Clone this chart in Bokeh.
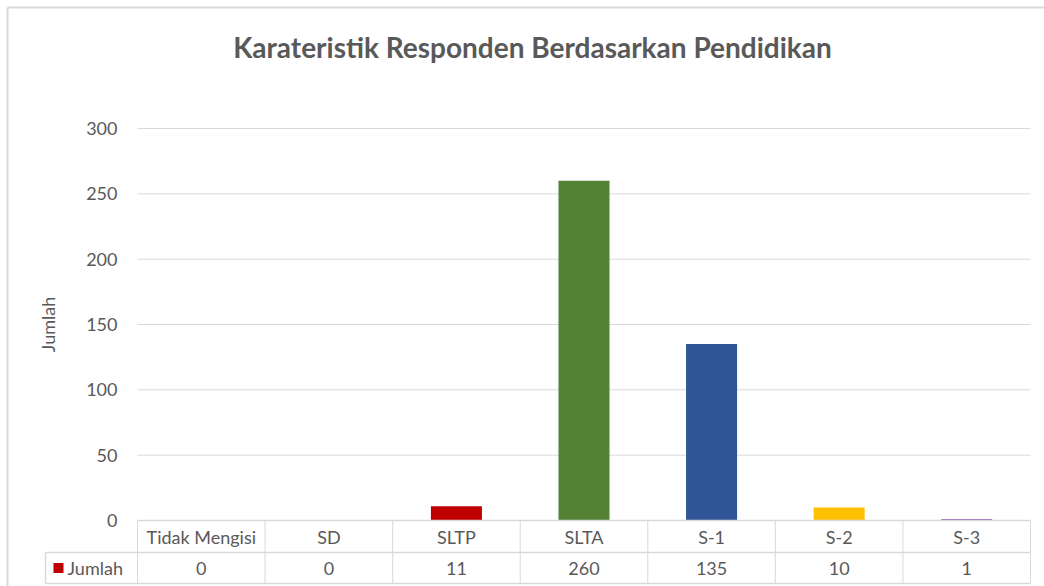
import numpy as np
from bokeh.plotting import figure
from bokeh.models import Range1d, FixedTicker, LinearAxis, ColumnDataSource
from bokeh.core.properties import value
from bokeh.embed import file_html
from bokeh.resources import INLINE

# ---------------- data ----------------
title_text = "Karateristik Responden Berdasarkan Pendidikan"
y_label = "Jumlah"
series_name = "Jumlah"
categories = ["Tidak Mengisi", "SD", "SLTP", "SLTA", "S-1", "S-2", "S-3"]
values = [0, 0, 11, 260, 135, 10, 1]
bar_colors = ["#4472C4", "#ED7D31", "#C00000", "#548235", "#2F5597", "#FFC000", "#7030A0"]
legend_color = "#C00000"
y_ticks = [0, 50, 100, 150, 200, 250, 300]

# ---------------- layout (pixels) ----------------
FONT = "Lato"
TXT = "#595959"
GRID = "#D9D9D9"
W, H = 1044, 586
PLOT_L, PLOT_R = 137, 1030          # plot area, px
PLOT_T, PLOT_B = 128, 520           # y of 300 and of 0, px
n = len(categories)
cx = (PLOT_R - PLOT_L) / n          # px per category
cy = (PLOT_B - PLOT_T) / 300.0      # px per unit


def dx(px):  # page x -> data x
    return (px - PLOT_L) / cx


def dy(py):  # page y -> data y
    return (PLOT_B - py) / cy


p = figure(width=W, height=H, output_backend="svg", toolbar_location=None,
           x_range=Range1d(dx(0), dx(W)), y_range=Range1d(dy(H), dy(0)),
           x_axis_type=None, y_axis_type=None,
           min_border_left=0, min_border_right=0, min_border_top=0,
           min_border_bottom=0, outline_line_color=None)
p.title = None

# y axis, drawn at the left edge of the plot area
yax = LinearAxis(ticker=FixedTicker(ticks=y_ticks), axis_label=y_label,
                 bounds=(y_ticks[0], y_ticks[-1]))
yax.fixed_location = 0
yax.axis_line_color = None
yax.major_tick_line_color = None
yax.minor_tick_line_color = None
yax.major_tick_out = 0
yax.major_tick_in = 0
yax.major_label_standoff = 20
yax.major_label_text_font = FONT
yax.major_label_text_font_size = "18px"
yax.major_label_text_color = TXT
yax.axis_label_text_font = FONT
yax.axis_label_text_font_size = "18px"
yax.axis_label_text_font_style = "normal"
yax.axis_label_text_color = TXT
yax.axis_label_standoff = 24
p.add_layout(yax, "left")

# horizontal gridlines across the plot area at the axis ticks (behind bars)
grid_ticks = y_ticks[1:]
p.segment(x0=[0] * len(grid_ticks), x1=[n] * len(grid_ticks), y0=grid_ticks,
          y1=grid_ticks, line_color=GRID, line_width=1)

# bars
centers = np.arange(n) + 0.5
src = ColumnDataSource(dict(x=centers, top=values, color=bar_colors,
                            cat=categories, val=[str(v) for v in values]))
p.vbar(x="x", top="top", width=0.4, fill_color="color", line_color=None, source=src)

# data table below the plot (drawn over the bar bases)
row1 = dy(552)
row2 = dy(583)
cell_left = dx(45)
edges = np.arange(n + 1)
p.segment(x0=edges, y0=[0] * (n + 1), x1=edges, y1=[row2] * (n + 1),
          line_color=GRID, line_width=1)
p.segment(x0=[0, cell_left, cell_left, cell_left], y0=[0, row1, row2, row1],
          x1=[n, n, n, cell_left], y1=[0, row1, row2, row2],
          line_color=GRID, line_width=1.5)

p.text(x="x", y=row1 / 2, text="cat", source=src, text_align="center",
       text_baseline="middle", text_font=value(FONT), text_font_size="18px",
       text_color=TXT)
p.text(x="x", y=(row1 + row2) / 2, text="val", source=src, text_align="center",
       text_baseline="middle", text_font=value(FONT), text_font_size="18px",
       text_color=TXT)

# legend key in the table
mid = (row1 + row2) / 2
p.quad(left=[dx(53)], right=[dx(63)], top=[mid + 5 / cy], bottom=[mid - 5 / cy],
       fill_color=legend_color, line_color=None)
p.text(x=[dx(67)], y=[mid], text=[series_name], text_align="left",
       text_baseline="middle", text_font=value(FONT), text_font_size="18px",
       text_color=TXT)

# title
p.text(x=[dx(532)], y=[dy(46)], text=[title_text], text_align="center",
       text_baseline="middle", text_font=value(FONT), text_font_size="28px",
       text_font_style="bold", text_color=TXT)

# chart-area border (top and left)
p.segment(x0=[dx(7), dx(7)], y0=[dy(7), dy(7)], x1=[dx(W), dx(7)], y1=[dy(7), dy(H)],
          line_color=GRID, line_width=2)

open("out.html", "w").write(file_html(p, INLINE))
